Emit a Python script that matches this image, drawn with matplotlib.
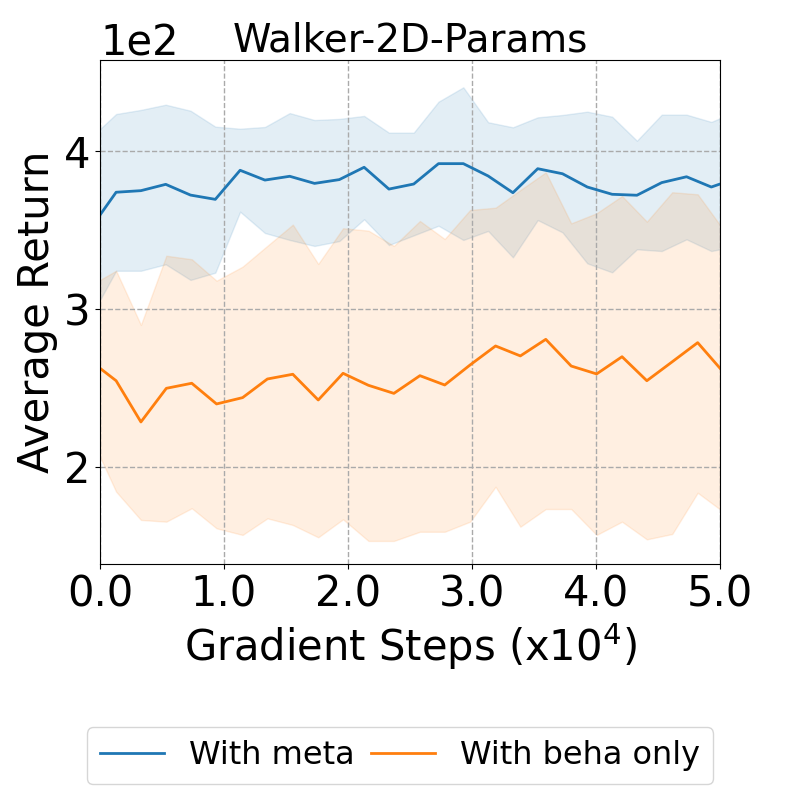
import numpy as np
import matplotlib
matplotlib.use("Agg")
import matplotlib.pyplot as plt

# Werte (Einheit: Return, x in 1e4 Schritten)
blue_x = [0.0, 0.13, 0.33, 0.53, 0.73, 0.93, 1.13, 1.33, 1.53, 1.73, 1.93, 2.13, 2.33, 2.53,
          2.73, 2.93, 3.13, 3.33, 3.53, 3.73, 3.93, 4.13, 4.33, 4.53, 4.73, 4.93, 5.0]
blue_mean = [359.5, 373.9, 374.9, 378.9, 372.1, 369.4, 387.8, 381.6, 384.0, 379.5, 381.9, 389.7, 375.9, 379.1,
             392.0, 392.0, 384.2, 373.6, 388.8, 385.6, 377.2, 372.6, 372.0, 380.0, 383.7, 377.2, 379.1]
blue_upper = [413.9, 423.4, 426.0, 429.3, 425.5, 415.4, 414.1, 415.2, 424.0, 419.6, 420.3, 422.2, 411.6, 411.6,
              431.2, 440.3, 418.2, 415.0, 421.3, 422.8, 424.9, 421.7, 406.5, 423.0, 423.0, 418.4, 420.7]
blue_lower = [305.7, 324.2, 324.2, 328.3, 318.4, 323.0, 361.6, 348.1, 343.7, 339.9, 343.0, 356.8, 340.5, 346.6,
              352.7, 343.7, 349.4, 332.7, 356.3, 348.5, 328.9, 323.2, 337.8, 336.7, 344.1, 336.7, 337.8]

orange_x = [0.0, 0.13, 0.33, 0.535, 0.74, 0.94, 1.15, 1.35, 1.555, 1.76, 1.96, 2.165, 2.37,
            2.58, 2.78, 2.985, 3.19, 3.39, 3.595, 3.80, 4.005, 4.21, 4.41, 4.615, 4.82, 5.0]
orange_mean = [262.5, 254.6, 228.5, 249.8, 253.0, 239.9, 243.9, 255.7, 258.7, 242.4, 259.3, 251.7, 246.6,
               257.8, 251.9, 264.6, 276.6, 270.3, 280.8, 263.9, 258.9, 269.8, 254.6, 266.6, 278.7, 262.5]
orange_upper = [318.4, 324.2, 289.9, 333.7, 331.5, 317.9, 326.8, 340.0, 353.4, 328.5, 351.1, 349.6, 339.9,
                355.7, 344.3, 362.7, 364.1, 375.3, 386.5, 354.2, 360.6, 371.5, 355.3, 373.9, 372.6, 353.2]
orange_lower = [206.5, 184.4, 166.5, 165.4, 173.9, 161.2, 157.0, 167.5, 163.3, 155.5, 166.9, 153.2, 153.2,
                159.0, 159.0, 165.4, 187.5, 162.2, 173.4, 173.4, 157.0, 165.4, 154.2, 157.6, 183.7, 173.2]

labels = ["With meta", "With beha only"]
xticks = [0.0, 1.0, 2.0, 3.0, 4.0, 5.0]

fig, ax = plt.subplots(figsize=(8, 8), dpi=100)
fig.subplots_adjust(left=0.125, right=0.9, top=0.925, bottom=0.295)

ax.plot(blue_x, blue_mean, color="C0", lw=2, label=labels[0])
ax.fill_between(blue_x, blue_lower, blue_upper, color="C0", alpha=0.12)
ax.plot(orange_x, orange_mean, color="C1", lw=2, label=labels[1])
ax.fill_between(orange_x, orange_lower, orange_upper, color="C1", alpha=0.12)

ax.set_xlim(0, 5)
ax.set_ylim(138.6, 457.6)
ax.set_xticks(xticks)
ax.set_xticklabels(["%.1f" % t for t in xticks])
ax.ticklabel_format(style="sci", axis="y", scilimits=(2, 2))
ax.tick_params(labelsize=30)
ax.yaxis.get_offset_text().set_fontsize(30)
ax.grid(True, linestyle="--", color="#aaaaaa", lw=1)

ax.set_title("Walker-2D-Params", fontsize=28)
ax.set_xlabel("Gradient Steps (x10$^4$)", fontsize=30)
ax.set_ylabel("Average Return", fontsize=30)

fig.legend(loc="lower center", bbox_to_anchor=(0.5, 0.0), ncol=2, fontsize=23,
           columnspacing=0.5)

fig.savefig("out.png")
